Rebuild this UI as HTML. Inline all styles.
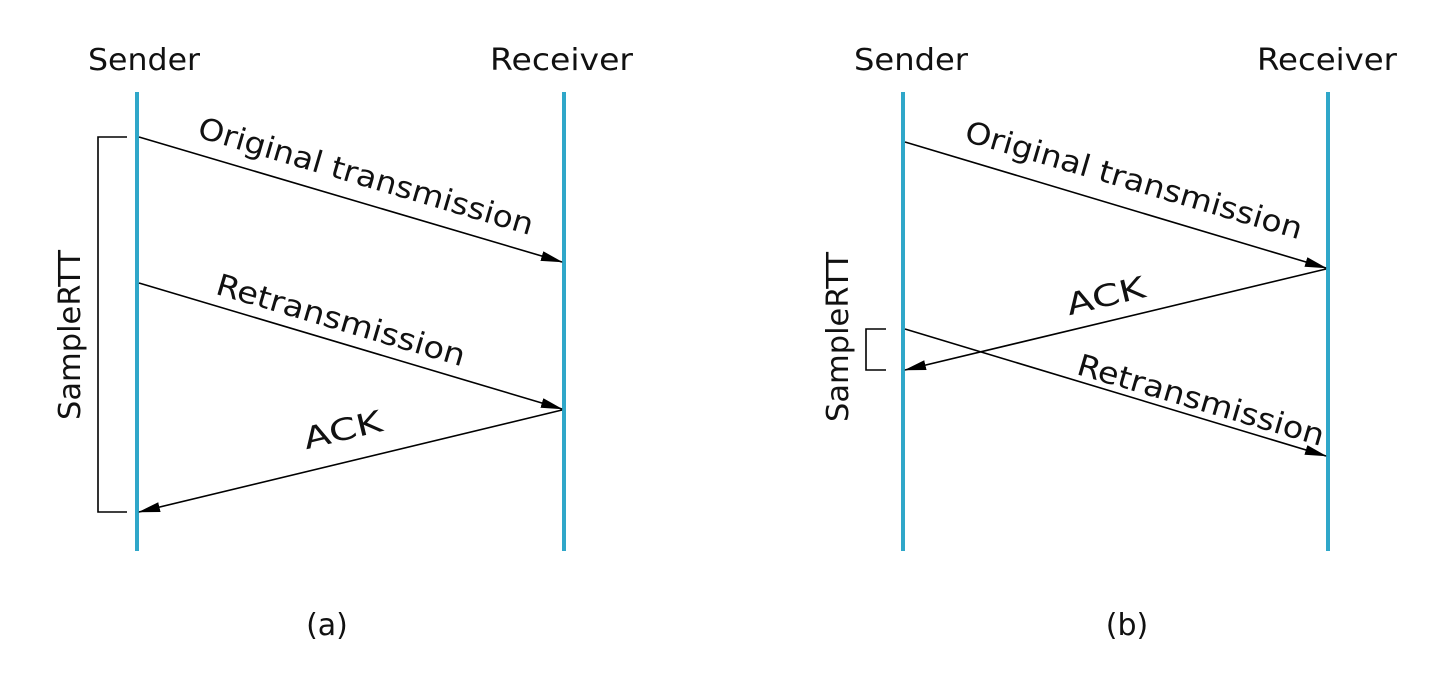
<!DOCTYPE html>
<html><head><style>body{margin:0;background:#fff}</style></head><body>
<svg width="1430" height="688" xmlns="http://www.w3.org/2000/svg" font-family="DejaVu Sans, Liberation Sans, sans-serif">
<defs><marker id="ah" markerWidth="22" markerHeight="10" refX="21" refY="5" orient="auto" markerUnits="userSpaceOnUse"><path d="M0,0 L22,5 L0,10 Z" fill="#000"/></marker></defs>
<g stroke="#2fa7c9" stroke-width="4">
<line x1="137" y1="92" x2="137" y2="551"/><line x1="564" y1="92" x2="564" y2="551"/>
<line x1="903" y1="92" x2="903" y2="551"/><line x1="1328" y1="92" x2="1328" y2="551"/>
</g>
<g stroke="#000" stroke-width="1.6" fill="none">
<line x1="139" y1="137" x2="562" y2="262" marker-end="url(#ah)"/>
<line x1="139" y1="283" x2="562" y2="409" marker-end="url(#ah)"/>
<line x1="562" y1="410" x2="139" y2="512" marker-end="url(#ah)"/>
<polyline points="127,137 98,137 98,512 127,512"/>
<line x1="905" y1="142" x2="1326" y2="268" marker-end="url(#ah)"/>
<line x1="1326" y1="269" x2="905" y2="370" marker-end="url(#ah)"/>
<line x1="905" y1="329" x2="1326" y2="456" marker-end="url(#ah)"/>
<polyline points="886,329 866,329 866,370 886,370"/>
</g>
<g font-size="30" fill="#111">
<text x="88" y="70" textLength="112" lengthAdjust="spacingAndGlyphs">Sender</text>
<text x="490" y="70" textLength="143" lengthAdjust="spacingAndGlyphs">Receiver</text>
<text x="854" y="70" textLength="114" lengthAdjust="spacingAndGlyphs">Sender</text>
<text x="1257" y="70" textLength="140" lengthAdjust="spacingAndGlyphs">Receiver</text>
<text x="327" y="635" text-anchor="middle">(a)</text>
<text x="1127" y="635" text-anchor="middle">(b)</text>
<text transform="translate(80,420) rotate(-90)" textLength="170" lengthAdjust="spacingAndGlyphs">SampleRTT</text>
<text transform="translate(848,422) rotate(-90)" textLength="170" lengthAdjust="spacingAndGlyphs">SampleRTT</text>
<text transform="translate(363,186) rotate(16.4)" text-anchor="middle" textLength="348" lengthAdjust="spacingAndGlyphs">Original transmission</text>
<text transform="translate(338,330) rotate(16.4)" text-anchor="middle" textLength="258" lengthAdjust="spacingAndGlyphs">Retransmission</text>
<text transform="translate(345,440) rotate(-13.5)" text-anchor="middle" textLength="80" lengthAdjust="spacingAndGlyphs">ACK</text>
<text transform="translate(1131,190) rotate(16.4)" text-anchor="middle" textLength="350" lengthAdjust="spacingAndGlyphs">Original transmission</text>
<text transform="translate(1108,306) rotate(-13.5)" text-anchor="middle" textLength="80" lengthAdjust="spacingAndGlyphs">ACK</text>
<text transform="translate(1198,410) rotate(16.4)" text-anchor="middle" textLength="256" lengthAdjust="spacingAndGlyphs">Retransmission</text>
</g>
</svg>
</body></html>
